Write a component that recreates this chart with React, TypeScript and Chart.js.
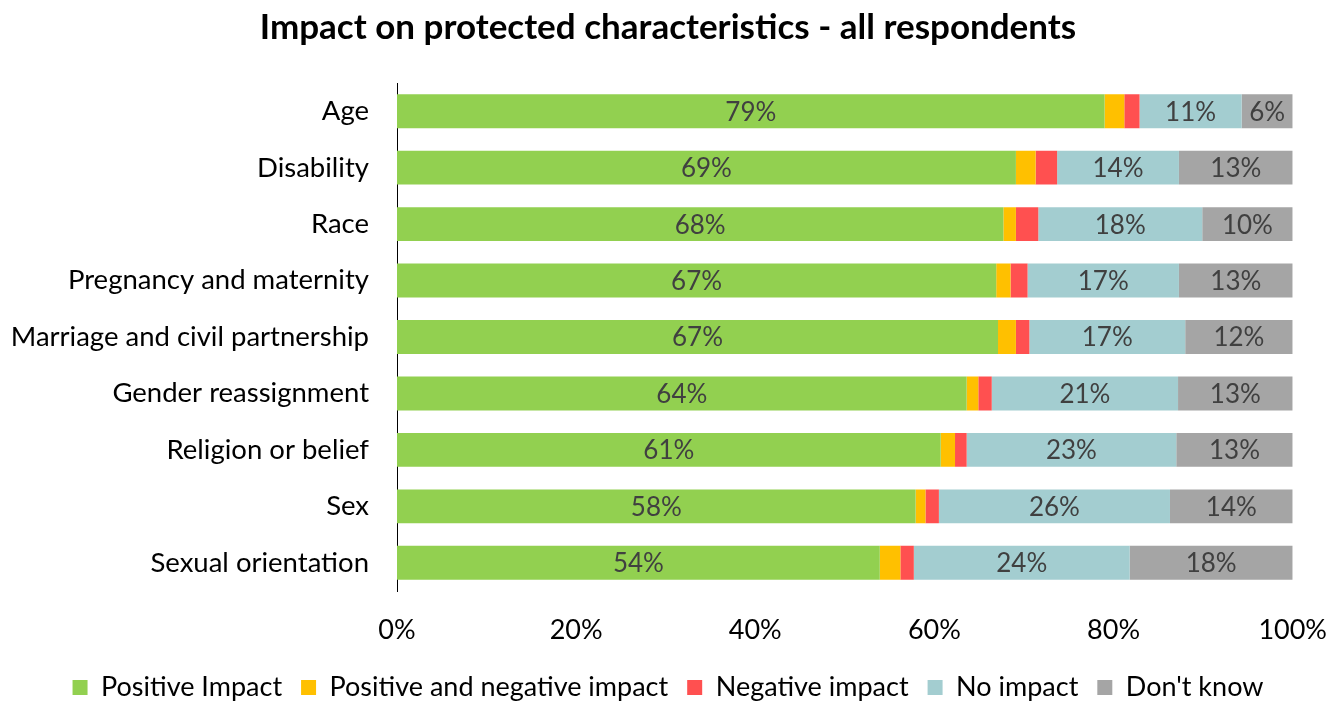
import React, { useEffect, useRef } from "react";
import { Chart, registerables } from "chart.js";

Chart.register(...registerables);

const categories = [
  "Age",
  "Disability",
  "Race",
  "Pregnancy and maternity",
  "Marriage and civil partnership",
  "Gender reassignment",
  "Religion or belief",
  "Sex",
  "Sexual orientation",
];
const positiveImpact = [79.0, 69.1, 67.7, 66.9, 67.1, 63.6, 60.7, 57.9, 53.9];
const positiveAndNegative = [2.2, 2.2, 1.4, 1.6, 2.0, 1.3, 1.6, 1.1, 2.3];
const negativeImpact = [1.7, 2.4, 2.5, 1.9, 1.5, 1.5, 1.3, 1.5, 1.5];
const noImpact = [11.4, 13.6, 18.3, 16.9, 17.4, 20.8, 23.4, 25.8, 24.1];
const dontKnow = [5.7, 12.7, 10.1, 12.7, 12.0, 12.8, 13.0, 13.7, 18.2];
const xTicks = [0, 20, 40, 60, 80, 100];

const FONT = "Lato, 'Open Sans', sans-serif";

const labelPlugin = {
  id: "segmentLabels",
  afterDatasetsDraw(chart: any) {
    const ctx = chart.ctx;
    ctx.save();
    ctx.font = `26px ${FONT}`;
    ctx.fillStyle = "#404040";
    ctx.textAlign = "center";
    ctx.textBaseline = "middle";
    [0, 3, 4].forEach((di) => {
      const meta = chart.getDatasetMeta(di);
      const data = chart.data.datasets[di].data as number[];
      meta.data.forEach((el: any, i: number) => {
        const cx = (el.x + el.base) / 2;
        ctx.fillText(Math.round(data[i]) + "%", cx, el.y + 1);
      });
    });
    ctx.restore();
  },
};

export default function App() {
  const ref = useRef<HTMLCanvasElement>(null);
  useEffect(() => {
    if (!ref.current) return;
    const chart = new Chart(ref.current, {
      type: "bar",
      data: {
        labels: categories,
        datasets: [
          { label: "Positive Impact", data: positiveImpact, backgroundColor: "#92D050" },
          { label: "Positive and negative impact", data: positiveAndNegative, backgroundColor: "#FFC000" },
          { label: "Negative impact", data: negativeImpact, backgroundColor: "#FF5050" },
          { label: "No impact", data: noImpact, backgroundColor: "#A3CDD0" },
          { label: "Don't know", data: dontKnow, backgroundColor: "#A5A5A5" },
        ],
      },
      options: {
        indexAxis: "y",
        responsive: false,
        animation: false,
        datasets: {
          bar: { categoryPercentage: 1, barPercentage: 0.6, borderWidth: 0 },
        },
        layout: { padding: { left: 8, right: 0, top: 0, bottom: 0 } },
        scales: {
          x: {
            stacked: true,
            min: 0,
            max: 100,
            afterBuildTicks: (s: any) => {
              s.ticks = xTicks.map((v) => ({ value: v }));
            },
            ticks: {
              callback: (v: any) => v + "%",
              color: "#000",
              font: { family: FONT, size: 27 },
              padding: 1,
            },
            grid: { display: false, drawTicks: true, tickLength: 22 },
            border: { display: false },
            afterFit: (s: any) => {
              s.height = 64;
            },
          },
          y: {
            stacked: true,
            ticks: {
              color: "#000",
              font: { family: FONT, size: 27.5 },
              padding: 28,
            },
            grid: { display: false, drawTicks: false },
            border: { display: true, color: "#000", width: 1 },
            afterFit: (s: any) => {
              s.width = 389;
            },
          },
        },
        plugins: {
          title: {
            display: true,
            text: "Impact on protected characteristics - all respondents",
            color: "#000",
            font: { family: FONT, size: 35, weight: "bold" },
            padding: { top: 7, bottom: 34 },
          },
          legend: {
            position: "bottom",
            maxHeight: 47,
            labels: {
              color: "#000",
              font: { family: FONT, size: 27 },
              boxWidth: 15,
              boxHeight: 15,
              padding: 19,
            },
          },
          tooltip: { enabled: false },
        },
      },
      plugins: [labelPlugin],
    });
    return () => chart.destroy();
  }, []);
  return (
    <div style={{ position: "fixed", left: 0, top: 0, width: 1328, height: 702, background: "#fff" }}>
      <canvas ref={ref} width={1328} height={702} />
    </div>
  );
}
